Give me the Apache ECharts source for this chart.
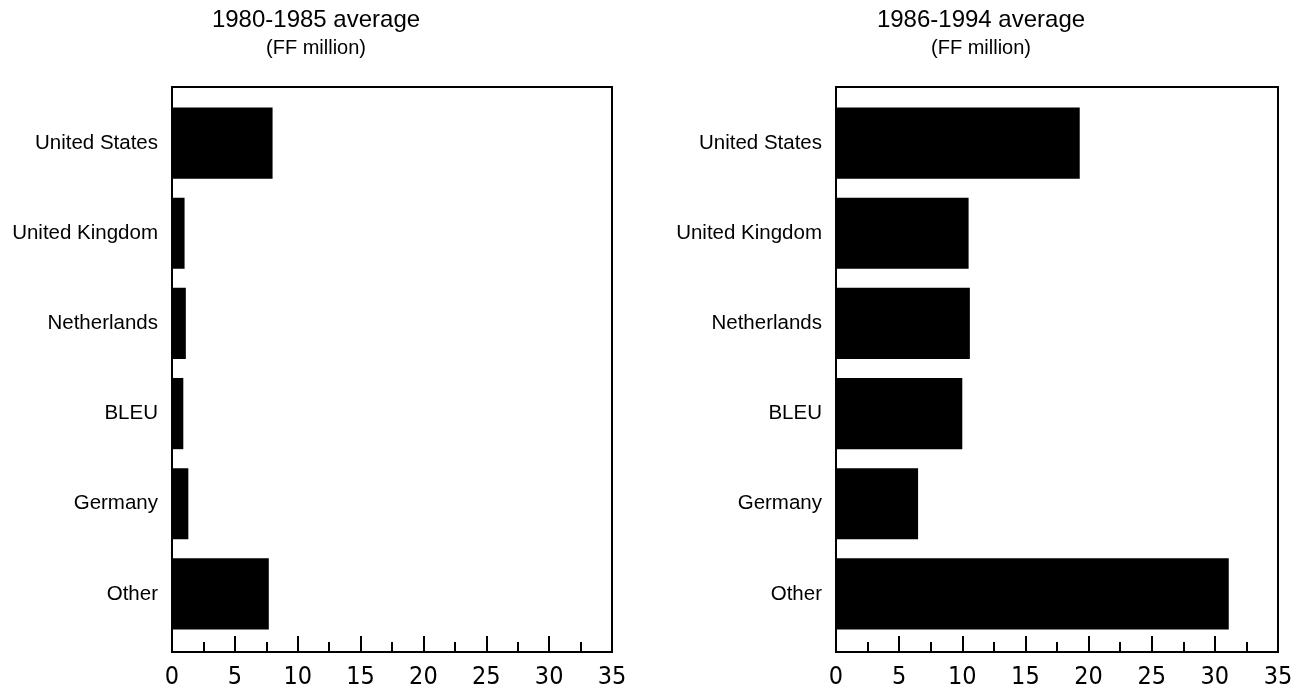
<!DOCTYPE html>
<html>
<head>
<meta charset="utf-8">
<script src="https://cdn.jsdelivr.net/npm/echarts@6/dist/echarts.min.js"></script>
<style>
  html, body { margin: 0; padding: 0; background: #fff; }
  #main { width: 1310px; height: 694px; }
</style>
</head>
<body>
<div id="main"></div>
<script>
// categories, top to bottom
var countries = ['United States', 'United Kingdom', 'Netherlands', 'BLEU', 'Germany', 'Other'];
// FF million
var avg1980_1985 = [8.0, 1.0, 1.1, 0.9, 1.3, 7.7];
var avg1986_1994 = [19.3, 10.5, 10.6, 10.0, 6.5, 31.1];
var panelTitles = ['1980-1985 average', '1986-1994 average'];
var unitLabel = '(FF million)';
var axisMin = 0, axisMax = 35, axisStep = 5;

var chart = echarts.init(document.getElementById('main'));
var tickFont = '"Liberation Sans Narrow", "DejaVu Sans Condensed", "Liberation Sans", Arial, sans-serif';
var labelFont = '"Liberation Sans", Arial, sans-serif';

// left edge and width of each panel
var panels = [{ left: 172, width: 440, titleX: 311 }, { left: 836, width: 442, titleX: 976 }];

var grids = [], xAxes = [], yAxes = [], series = [], titles = [];
panels.forEach(function (p, i) {
    // frame grid: box + bottom scale
    grids.push({ left: p.left, width: p.width, top: 87, height: 565, show: true,
        borderColor: '#000', borderWidth: 2, backgroundColor: 'transparent' });
    // data grid: bars sit a bit inside the frame
    grids.push({ left: p.left, width: p.width, top: 98, height: 541 });

    xAxes.push({
        gridIndex: i * 2, type: 'value', min: axisMin, max: axisMax, interval: axisStep,
        axisLine: { show: true, lineStyle: { color: '#000', width: 2 } },
        axisTick: { show: true, inside: true, length: 16, lineStyle: { color: '#000', width: 2 } },
        minorTick: { show: true, splitNumber: 2, length: 10, lineStyle: { color: '#000', width: 2 } },
        splitLine: { show: false },
        axisLabel: { color: '#000', fontSize: 25, fontFamily: tickFont, margin: 13 }
    });
    xAxes.push({
        gridIndex: i * 2 + 1, type: 'value', min: axisMin, max: axisMax, show: false
    });
    yAxes.push({ gridIndex: i * 2, type: 'value', show: false });
    yAxes.push({
        gridIndex: i * 2 + 1, type: 'category', inverse: true, data: countries,
        axisLine: { show: false }, axisTick: { show: false },
        axisLabel: { color: '#000', fontSize: 20.5, fontFamily: labelFont, margin: 14 }
    });
    series.push({
        type: 'bar', xAxisIndex: i * 2 + 1, yAxisIndex: i * 2 + 1,
        data: i === 0 ? avg1980_1985 : avg1986_1994,
        barCategoryGap: '21%', itemStyle: { color: '#000' }, silent: true
    });
    titles.push({
        text: panelTitles[i], subtext: unitLabel, left: p.titleX, top: 3, textAlign: 'center',
        itemGap: 6,
        textStyle: { color: '#000', fontSize: 24, fontWeight: 'normal', fontFamily: labelFont },
        subtextStyle: { color: '#000', fontSize: 20, fontFamily: labelFont }
    });
});

chart.setOption({
    animation: false,
    title: titles,
    grid: grids,
    xAxis: xAxes,
    yAxis: yAxes,
    series: series
});
</script>
</body>
</html>
